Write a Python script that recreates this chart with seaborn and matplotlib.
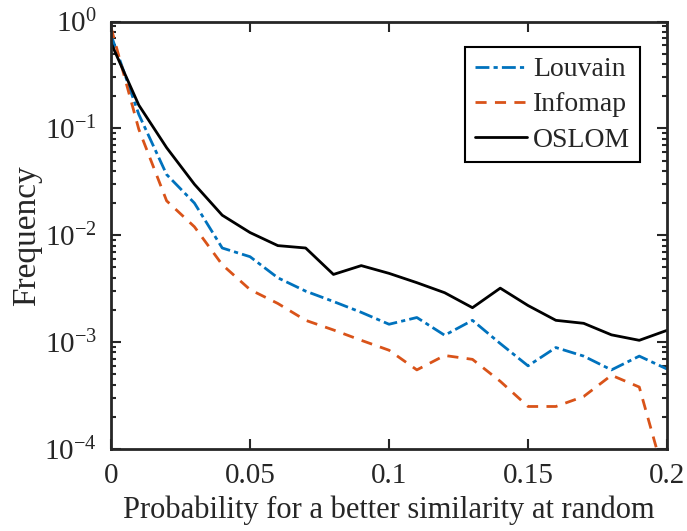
import numpy as np
import pandas as pd
import matplotlib
matplotlib.use("Agg")
import matplotlib.pyplot as plt
import seaborn as sns
from matplotlib.ticker import LogLocator, NullFormatter

x_vals = [0.00, 0.01, 0.02, 0.03, 0.04, 0.05, 0.06, 0.07, 0.08, 0.09, 0.10,
          0.11, 0.12, 0.13, 0.14, 0.15, 0.16, 0.17, 0.18, 0.19, 0.20]
louvain = [0.75, 0.135, 0.037, 0.020, 0.0076, 0.0063, 0.0040, 0.0030, 0.0024, 0.0019, 0.00147,
           0.0017, 0.00116, 0.0016, 0.00097, 0.0006, 0.00089, 0.00074, 0.00055, 0.00074, 0.00056]
infomap = [0.88, 0.098, 0.021, 0.0120, 0.0053, 0.0031, 0.0023, 0.0016, 0.0013, 0.00104, 0.00084,
           0.00055, 0.00075, 0.00069, 0.00043, 0.00025, 0.00025, 0.00031, 0.00049, 0.00038, 0.000045]
oslom = [0.63, 0.165, 0.066, 0.030, 0.0154, 0.0106, 0.0080, 0.0076, 0.0043, 0.0052, 0.0044,
         0.0036, 0.0029, 0.0021, 0.0032, 0.0022, 0.0016, 0.0015, 0.00117, 0.00104, 0.00129]

sns.set_style("ticks")
plt.rcParams["font.family"] = ["Liberation Serif", "DejaVu Serif"]
plt.rcParams["mathtext.fontset"] = "custom"
plt.rcParams["mathtext.rm"] = "Liberation Serif"
plt.rcParams["mathtext.it"] = "Liberation Serif:italic"

fig = plt.figure(figsize=(6.87, 5.31), dpi=100)
ax = fig.add_axes([0.1616, 0.1544, 0.8094, 0.8051])

series = [("Louvain", louvain, "#0072BD", (5, 1.5, 1.5, 1.5)),
          ("Infomap", infomap, "#D95319", (4, 3)),
          ("OSLOM", oslom, "black", "")]
for name, vals, col, dash in series:
    df = pd.DataFrame({"x": x_vals, "y": vals})
    sns.lineplot(data=df, x="x", y="y", ax=ax, color=col, lw=2.0, label=name)
    if dash:
        ax.lines[-1].set_dashes(dash)

ax.set_yscale("log")
ax.set_xlim(0, 0.2)
ax.set_ylim(1e-4, 1)
ax.set_xticks([0, 0.05, 0.1, 0.15, 0.2])
ax.set_xticklabels(["0", "0.05", "0.1", "0.15", "0.2"])
ax.yaxis.set_minor_locator(LogLocator(base=10, subs=np.arange(2, 10)))
ax.yaxis.set_minor_formatter(NullFormatter())
ax.tick_params(which="both", direction="in", top=True, right=True, labelsize=21, width=1.5)
ax.tick_params(which="major", length=7, pad=10)
ax.tick_params(which="minor", length=3.5)
for sp in ax.spines.values():
    sp.set_linewidth(2)
ax.set_xlabel("Probability for a better similarity at random", fontsize=22, labelpad=5)
ax.set_ylabel("Frequency", fontsize=24, labelpad=2)

leg = ax.legend(loc="upper right", bbox_to_anchor=(0.951, 0.94), fontsize=20, fancybox=False,
                edgecolor="black", framealpha=1, handlelength=1.9, handletextpad=0.2,
                borderpad=0.35, labelspacing=0.35, borderaxespad=0)
leg.get_frame().set_linewidth(1.5)

fig.savefig("out.png", dpi=100)
